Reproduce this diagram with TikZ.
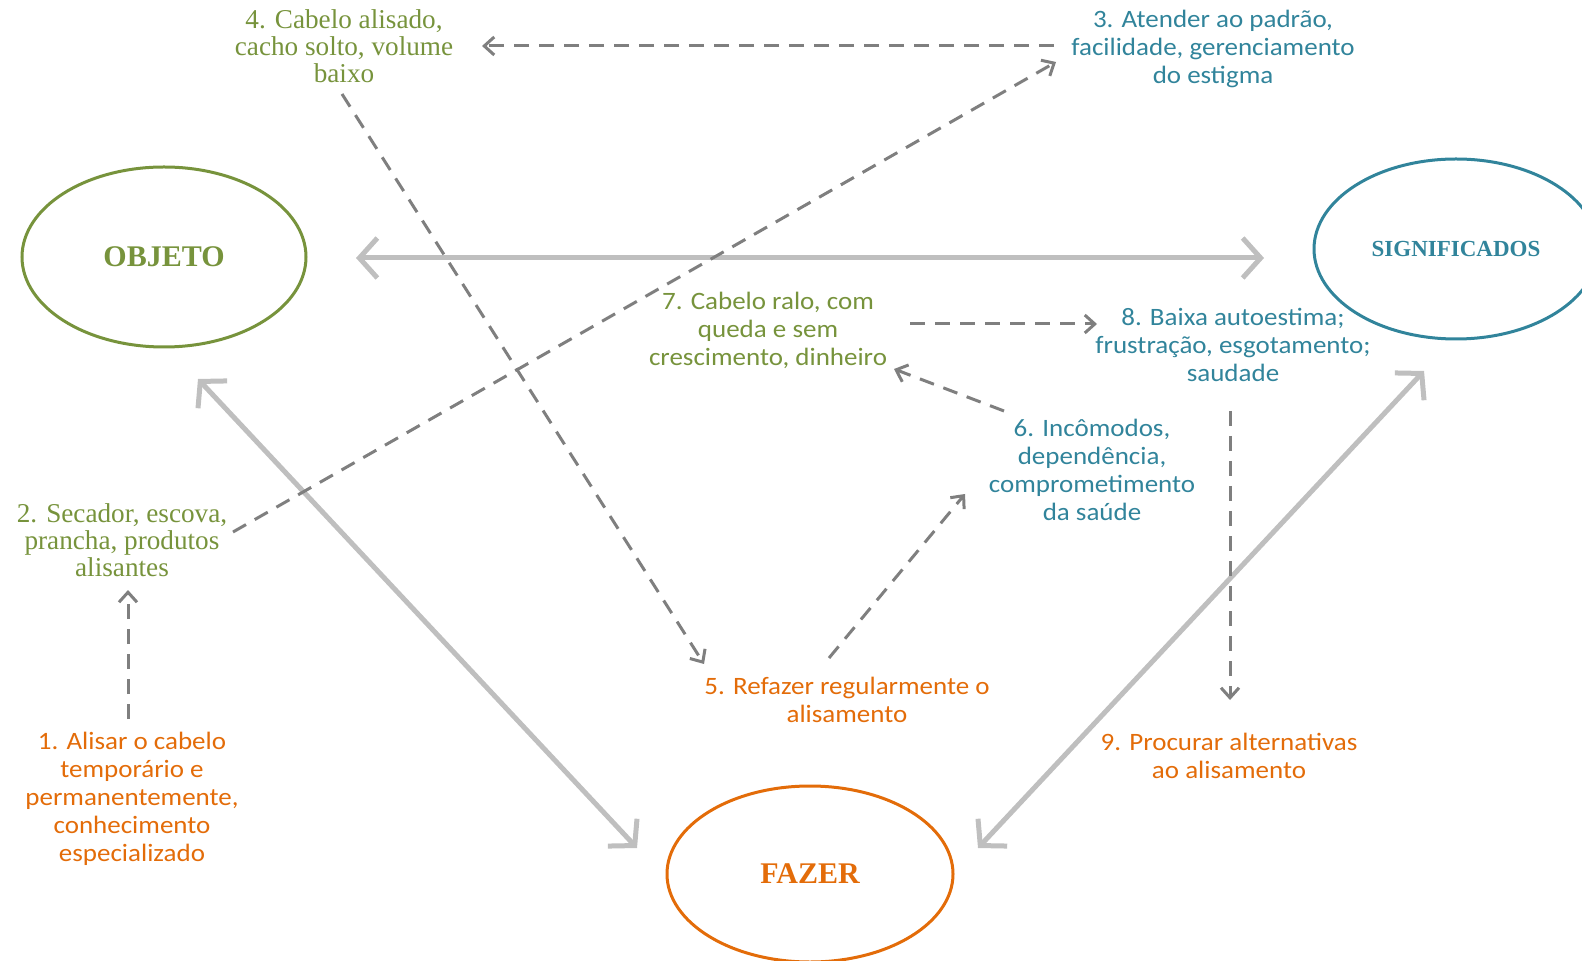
\documentclass[tikz,border=0pt]{standalone}
\usepackage{fontspec}
\setmainfont{Liberation Serif}
\setsansfont{Carlito}[FakeStretch=1.08]
\usepackage{tikz}
\usetikzlibrary{shapes.geometric,arrows.meta}
\definecolor{grn_c}{HTML}{77933C}
\definecolor{blu_c}{HTML}{31849B}
\definecolor{org_c}{HTML}{E36C09}
\definecolor{link_c}{HTML}{BFBFBF}
\definecolor{flow_c}{HTML}{7F7F7F}
\tikzset{%
  every pole/.style={
    ellipse,
    draw,
    line width=1.5pt,
    minimum width=142pt,
    minimum height=90pt,
    font=\bfseries\fontsize{15}{17}\selectfont
  },
  step text/.style={
    align=center,
    inner sep=0pt,
    font=\sffamily\fontsize{12.5}{14}\selectfont
  },
  serif text/.style={
    align=center,
    inner sep=0pt,
    font=\fontsize{13.6}{13.5}\selectfont
  },
  link/.style={
    draw=link_c,
    line width=2.5pt,
    {Straight Barb[length=9pt,width=20pt]}-{Straight Barb[length=9pt,width=20pt]}
  },
  flow/.style={
    draw=flow_c,
    line width=1.5pt,
    dash pattern=on 7.5pt off 5pt,
    -{Straight Barb[length=5pt,width=9pt]}
  },
}

\begin{document}
\begin{tikzpicture}[x=0.5pt, y=-0.5pt]
\useasboundingbox (0,0) rectangle (1582,961);
    \node[every pole, draw=grn_c, text=grn_c] (pole_obj) at (164,257) {OBJETO};
    \node[every pole, draw=blu_c, text=blu_c, font=\bfseries\fontsize{11.5}{13}\selectfont] (pole_sig) at (1456,249) {SIGNIFICADOS};
    \node[every pole, draw=org_c, text=org_c, minimum width=143pt, minimum height=88pt] (pole_faz) at (810,874) {FAZER};

    \node[step text, text=org_c] (lbl_1) at (132,799) {1. Alisar o cabelo\\temporário e\\permanentemente,\\conhecimento\\especializado};
    \node[serif text, text=grn_c] (lbl_2) at (122,540) {2. Secador, escova,\\prancha, produtos\\alisantes};
    \node[step text, text=blu_c] (lbl_3) at (1213,49) {3. Atender ao padrão,\\facilidade, gerenciamento\\do estigma};
    \node[serif text, text=grn_c] (lbl_4) at (344,46) {4. Cabelo alisado,\\cacho solto, volume\\baixo};
    \node[step text, text=org_c] (lbl_5) at (847,700) {5. Refazer regularmente o\\alisamento};
    \node[step text, text=blu_c] (lbl_6) at (1092,470) {6. Incômodos,\\dependência,\\comprometimento\\da saúde};
    \node[step text, text=grn_c] (lbl_7) at (768,330) {7. Cabelo ralo, com\\queda e sem\\crescimento, dinheiro};
    \node[step text, text=blu_c] (lbl_8) at (1233,345) {8. Baixa autoestima;\\frustração, esgotamento;\\saudade};
    \node[step text, text=org_c] (lbl_9) at (1229,756) {9. Procurar alternativas\\ao alisamento};

   \draw[link] ([shift={(192,1)}]pole_obj.center) -- ([shift={(-192,9)}]pole_sig.center);
   \draw[link] ([shift={(34,122)}]pole_obj.center) -- ([shift={(-173,-26)}]pole_faz.center);
   \draw[link] ([shift={(168,-26)}]pole_faz.center) -- ([shift={(-32,122)}]pole_sig.center);

   \draw[flow] ([shift={(-4,-80)}]lbl_1.center) -- ([shift={(6,50)}]lbl_2.center);
   \draw[flow] ([shift={(111,-8)}]lbl_2.center) -- ([shift={(-157,13)}]lbl_3.center);
   \draw[flow] ([shift={(-159,-3)}]lbl_3.center) -- ([shift={(138,0)}]lbl_4.center);
   \draw[flow] ([shift={(-2,48)}]lbl_4.center) -- ([shift={(-143,-36)}]lbl_5.center);
   \draw[flow] ([shift={(-18,-42)}]lbl_5.center) -- ([shift={(-127,24)}]lbl_6.center);
   \draw[flow] ([shift={(-88,-59)}]lbl_6.center) -- ([shift={(126,39)}]lbl_7.center);
   \draw[flow] ([shift={(142,-6)}]lbl_7.center) -- ([shift={(-136,-21)}]lbl_8.center);
   \draw[flow] ([shift={(-3,66)}]lbl_8.center) -- ([shift={(1,-56)}]lbl_9.center);
\end{tikzpicture}
\end{document}
